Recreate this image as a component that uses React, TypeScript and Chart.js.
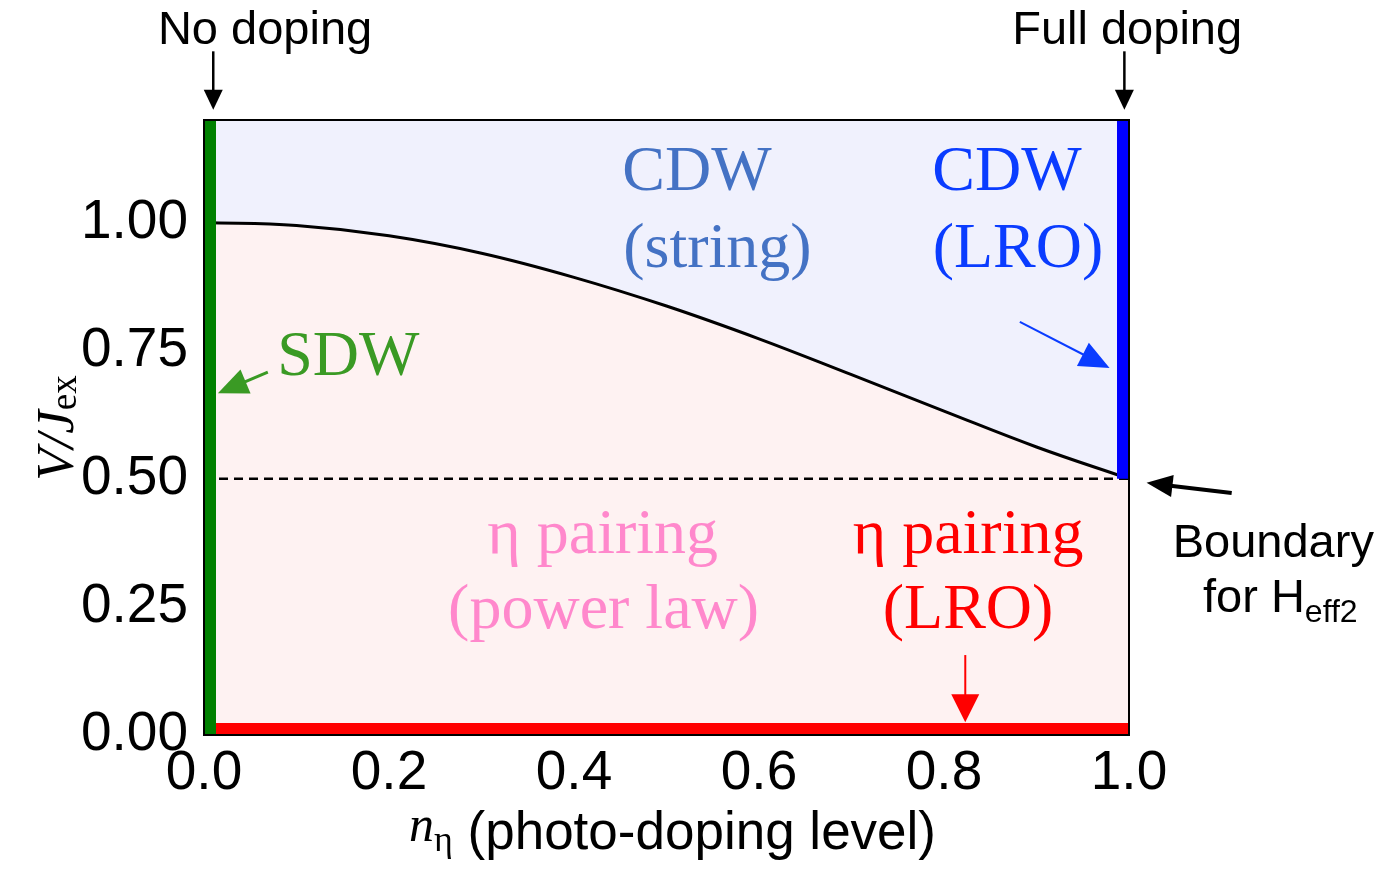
import { useEffect, useRef } from "react";
import { Chart, registerables } from "chart.js";

Chart.register(...registerables);

// Axis ranges and ticks
const X_RANGE = [0, 1];
const Y_RANGE = [0, 1.2];
const X_TICKS = [0, 0.2, 0.4, 0.6, 0.8, 1.0];
const Y_TICKS = [0, 0.25, 0.5, 0.75, 1.0];

// Phase boundary V/J_ex versus photo-doping level n_eta
const DOPING = [0, 0.1, 0.2, 0.3, 0.4, 0.5, 0.6, 0.7, 0.8, 0.9, 1.0];
const BOUNDARY_V = [1.0, 0.994, 0.974, 0.94, 0.893, 0.837, 0.773, 0.703, 0.632, 0.562, 0.5];

// Boundary for H_eff2 (dashed level)
const HEFF2_LEVEL = 0.5;

// Edge phases drawn as thick lines on the frame
const SDW_LINE = { x: [0, 0], y: [0, 1.2] };
const ETA_LRO_LINE = { x: [0, 1], y: [0, 0] };
const CDW_LRO_LINE = { x: [1, 1], y: [0.5, 1.2] };

const FONT_SANS = "'Liberation Sans', Arial, Helvetica, sans-serif";
const FONT_SERIF = "'Liberation Serif', 'Times New Roman', Times, serif";

const CDW_FILL = "rgb(240,241,253)";
const ETA_FILL = "rgb(254,242,242)";

// Phase labels (data coordinates, baseline anchored, centred)
const PHASE_LABELS = [
  { text: "CDW", x: 0.533, y: 1.063, color: "#4472c4" },
  { text: "(string)", x: 0.555, y: 0.913, color: "#4472c4" },
  { text: "CDW", x: 0.868, y: 1.063, color: "#0a3cff" },
  { text: "(LRO)", x: 0.88, y: 0.913, color: "#0a3cff" },
  { text: "SDW", x: 0.156, y: 0.702, color: "#3a9a24" },
  { text: "η pairing", x: 0.431, y: 0.355, color: "#ff88cc" },
  { text: "(power law)", x: 0.432, y: 0.209, color: "#ff88cc" },
  { text: "η pairing", x: 0.826, y: 0.355, color: "#ff0000" },
  { text: "(LRO)", x: 0.826, y: 0.209, color: "#ff0000" },
];

// Arrows: tail -> tip in data coordinates
const ARROWS = [
  { from: [0.01, 1.334], to: [0.01, 1.22], color: "#000000", lw: 2.5, head: 20, width: 19 },
  { from: [0.995, 1.334], to: [0.995, 1.22], color: "#000000", lw: 2.5, head: 20, width: 19 },
  { from: [0.069, 0.708], to: [0.015, 0.667], color: "#3a9a24", lw: 3, head: 30, width: 26 },
  { from: [0.882, 0.806], to: [0.979, 0.716], color: "#0a3cff", lw: 2, head: 30, width: 26 },
  { from: [0.823, 0.156], to: [0.823, 0.025], color: "#ff0000", lw: 2, head: 28, width: 28 },
  { from: [1.111, 0.472], to: [1.019, 0.492], color: "#000000", lw: 4, head: 26, width: 22 },
];

function drawArrow(ctx: CanvasRenderingContext2D, x1: number, y1: number, x2: number, y2: number, a: any) {
  const ang = Math.atan2(y2 - y1, x2 - x1);
  const bx = x2 - Math.cos(ang) * a.head;
  const by = y2 - Math.sin(ang) * a.head;
  ctx.save();
  ctx.strokeStyle = a.color;
  ctx.fillStyle = a.color;
  ctx.lineWidth = a.lw;
  ctx.beginPath();
  ctx.moveTo(x1, y1);
  ctx.lineTo(bx + Math.cos(ang) * 2, by + Math.sin(ang) * 2);
  ctx.stroke();
  const px = -Math.sin(ang) * a.width / 2;
  const py = Math.cos(ang) * a.width / 2;
  ctx.beginPath();
  ctx.moveTo(x2, y2);
  ctx.lineTo(bx + px, by + py);
  ctx.lineTo(bx - px, by - py);
  ctx.closePath();
  ctx.fill();
  ctx.restore();
}

const decorPlugin = {
  id: "phaseDecor",
  beforeDatasetsDraw(chart: any) {
    const { ctx, chartArea: a } = chart;
    ctx.save();
    ctx.fillStyle = CDW_FILL;
    ctx.fillRect(a.left, a.top, a.right - a.left, a.bottom - a.top);
    ctx.restore();
  },
  afterDatasetsDraw(chart: any) {
    const { ctx, chartArea: a } = chart;
    const sx = chart.scales.x;
    const sy = chart.scales.y;
    ctx.save();
    ctx.strokeStyle = "#000";
    ctx.lineWidth = 2;
    ctx.strokeRect(a.left, a.top, a.right - a.left, a.bottom - a.top);

    ctx.textAlign = "center";
    ctx.textBaseline = "alphabetic";
    ctx.font = `64px ${FONT_SERIF}`;
    for (const l of PHASE_LABELS) {
      ctx.fillStyle = l.color;
      ctx.fillText(l.text, sx.getPixelForValue(l.x), sy.getPixelForValue(l.y));
    }
    ctx.restore();

    for (const ar of ARROWS) {
      drawArrow(
        ctx,
        sx.getPixelForValue(ar.from[0]),
        sy.getPixelForValue(ar.from[1]),
        sx.getPixelForValue(ar.to[0]),
        sy.getPixelForValue(ar.to[1]),
        ar
      );
    }
  },
  afterDraw(chart: any) {
    const { ctx, chartArea: a } = chart;
    const sx = chart.scales.x;
    const sy = chart.scales.y;
    ctx.save();
    ctx.fillStyle = "#000";
    ctx.textBaseline = "alphabetic";

    // top markers
    ctx.font = `47px ${FONT_SANS}`;
    ctx.textAlign = "center";
    ctx.fillText("No doping", sx.getPixelForValue(0.066), sy.getPixelForValue(1.348));
    ctx.fillText("Full doping", sx.getPixelForValue(0.998), sy.getPixelForValue(1.348));

    // boundary note
    ctx.fillText("Boundary", sx.getPixelForValue(1.156), sy.getPixelForValue(0.347));
    ctx.textAlign = "left";
    const fx = sx.getPixelForValue(1.08);
    const fy = sy.getPixelForValue(0.24);
    ctx.fillText("for H", fx, fy);
    const w1 = ctx.measureText("for H").width;
    ctx.font = `32px ${FONT_SANS}`;
    ctx.fillText("eff2", fx + w1, fy + 10);

    // x title: n_eta (photo-doping level)
    const cx = (a.left + a.right) / 2 + 6;
    const by = 849;
    ctx.font = `italic 50px ${FONT_SERIF}`;
    const wn = ctx.measureText("n").width;
    ctx.font = `36px ${FONT_SERIF}`;
    const we = ctx.measureText("η").width;
    ctx.font = `53px ${FONT_SANS}`;
    const wt = ctx.measureText(" (photo-doping level)").width;
    let x0 = cx - (wn + we + wt) / 2;
    ctx.font = `italic 50px ${FONT_SERIF}`;
    ctx.fillText("n", x0, by - 8);
    x0 += wn;
    ctx.font = `36px ${FONT_SERIF}`;
    ctx.fillText("η", x0, by + 2);
    x0 += we;
    ctx.font = `53px ${FONT_SANS}`;
    ctx.fillText(" (photo-doping level)", x0, by);

    // y title: V/J_ex
    ctx.translate(73, 428);
    ctx.rotate(-Math.PI / 2);
    ctx.font = `italic 53px ${FONT_SERIF}`;
    const wv = ctx.measureText("V/J").width;
    ctx.font = `37px ${FONT_SERIF}`;
    const wx = ctx.measureText("ex").width;
    const start = -(wv + wx) / 2;
    ctx.font = `italic 53px ${FONT_SERIF}`;
    ctx.fillText("V/J", start, 0);
    ctx.font = `37px ${FONT_SERIF}`;
    ctx.fillText("ex", start + wv, 3);
    ctx.restore();
  },
};

function pts(xs: number[], ys: number[]) {
  return xs.map((x, i) => ({ x, y: ys[i] }));
}

export default function App() {
  const ref = useRef<HTMLCanvasElement | null>(null);

  useEffect(() => {
    if (!ref.current) return;
    const chart = new Chart(ref.current, {
      type: "line",
      data: {
        datasets: [
          {
            data: pts(SDW_LINE.x, SDW_LINE.y),
            borderColor: "#008000",
            borderWidth: 24,
            pointRadius: 0,
            fill: false,
            clip: 0,
          },
          {
            data: pts(CDW_LRO_LINE.x, CDW_LRO_LINE.y),
            borderColor: "#0000ff",
            borderWidth: 24,
            pointRadius: 0,
            fill: false,
            clip: 0,
          },
          {
            data: pts(ETA_LRO_LINE.x, ETA_LRO_LINE.y),
            borderColor: "#ff0000",
            borderWidth: 24,
            pointRadius: 0,
            fill: false,
            clip: 0,
          },
          {
            data: pts([X_RANGE[0], X_RANGE[1]], [HEFF2_LEVEL, HEFF2_LEVEL]),
            borderColor: "#000",
            borderWidth: 2.5,
            borderDash: [9, 6],
            pointRadius: 0,
            fill: false,
            clip: 0,
          },
          {
            data: pts(DOPING, BOUNDARY_V),
            borderColor: "#000",
            borderWidth: 3,
            pointRadius: 0,
            tension: 0.4,
            fill: { target: "origin" },
            backgroundColor: ETA_FILL,
            clip: 0,
          },
        ],
      },
      options: {
        responsive: false,
        animation: false,
        parsing: false as any,
        layout: { padding: { top: 120, right: 248, left: 0, bottom: 0 } },
        plugins: {
          legend: { display: false },
          tooltip: { enabled: false },
        },
        scales: {
          x: {
            type: "linear",
            min: X_RANGE[0],
            max: X_RANGE[1],
            grid: { display: false, drawTicks: false },
            border: { display: false },
            afterBuildTicks: (s: any) => {
              s.ticks = X_TICKS.map((v) => ({ value: v }));
            },
            afterFit: (s: any) => {
              s.height = 135;
            },
            ticks: {
              autoSkip: false,
              maxRotation: 0,
              padding: 6,
              color: "#000",
              font: { family: FONT_SANS, size: 55 },
              callback: (v: any) => Number(v).toFixed(1),
            },
          },
          y: {
            type: "linear",
            min: Y_RANGE[0],
            max: Y_RANGE[1],
            grid: { display: false, drawTicks: false },
            border: { display: false },
            afterBuildTicks: (s: any) => {
              s.ticks = Y_TICKS.map((v) => ({ value: v }));
            },
            afterFit: (s: any) => {
              s.width = 204;
            },
            ticks: {
              autoSkip: false,
              padding: 16,
              color: "#000",
              font: { family: FONT_SANS, size: 55 },
              callback: (v: any) => Number(v).toFixed(2),
            },
          },
        },
      },
      plugins: [decorPlugin],
    });
    return () => chart.destroy();
  }, []);

  return (
    <div style={{ position: "fixed", left: 0, top: 0, width: 1377, height: 870, background: "#fff" }}>
      <canvas ref={ref} width={1377} height={870} style={{ display: "block" }} />
    </div>
  );
}
